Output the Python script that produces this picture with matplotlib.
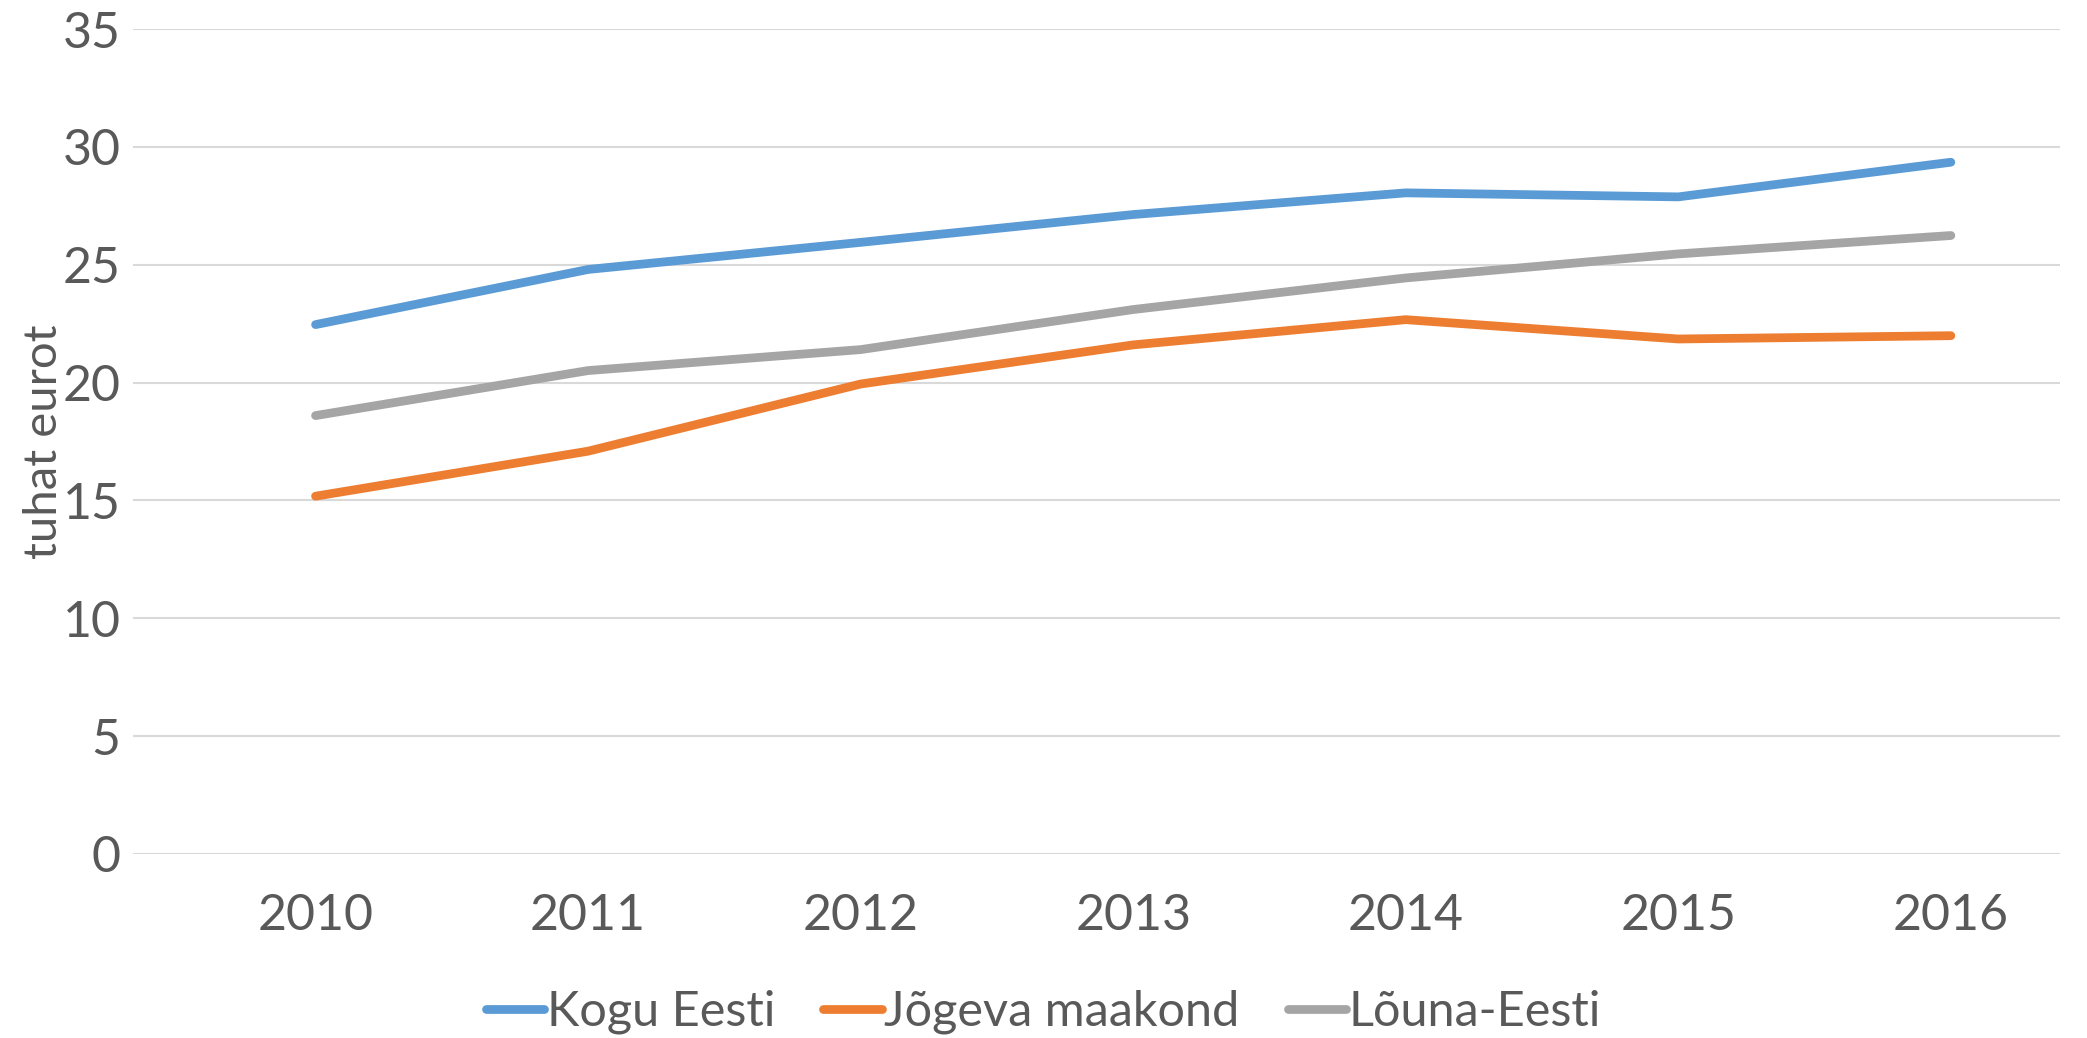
import matplotlib.pyplot as plt

# Data
years = ['2010', '2011', '2012', '2013', '2014', '2015', '2016']
kogu_eesti = [22.46, 24.8, 25.95, 27.13, 28.05, 27.88, 29.35]
jogeva = [15.18, 17.09, 19.94, 21.6, 22.67, 21.85, 21.99]
louna_eesti = [18.6, 20.51, 21.4, 23.1, 24.44, 25.46, 26.24]

series_names = ['Kogu Eesti', 'Jõgeva maakond', 'Lõuna-Eesti']
colors = ['#5B9BD5', '#ED7D31', '#A5A5A5']
text_color = '#595959'

plt.rcParams['font.family'] = ['Lato', 'DejaVu Sans']

fig = plt.figure(figsize=(20.87, 10.38), dpi=100)
ax = fig.add_axes([0.0637, 0.1773, 0.9233, 0.7947])

x = range(len(years))
for vals, name, c in zip([kogu_eesti, jogeva, louna_eesti], series_names, colors):
    ax.plot(x, vals, color=c, lw=6.3, solid_capstyle='round',
            solid_joinstyle='round', label=name)

ax.set_ylim(0, 35)
ax.set_yticks(range(0, 36, 5))
ax.set_xlim(-0.67, 6.4)
ax.set_xticks(list(x))
ax.set_xticklabels(years)

ax.grid(axis='y', color='#D9D9D9', lw=1.5)
ax.set_axisbelow(True)
for s in ax.spines.values():
    s.set_visible(False)
ax.tick_params(axis='both', length=0, labelsize=36, colors=text_color)
ax.tick_params(axis='y', pad=9)
ax.tick_params(axis='x', pad=28)

ax.set_ylabel('tuhat eurot', fontsize=34, color=text_color)
ax.yaxis.set_label_coords(-0.035, 0.5)

fig.legend(loc='center', bbox_to_anchor=(0.5, 1 - 1012 / 1038), ncol=3,
           frameon=False, fontsize=35, labelcolor=text_color,
           handlelength=1.2, handletextpad=0.05, columnspacing=1.0)

plt.savefig('out.png', dpi=100)
